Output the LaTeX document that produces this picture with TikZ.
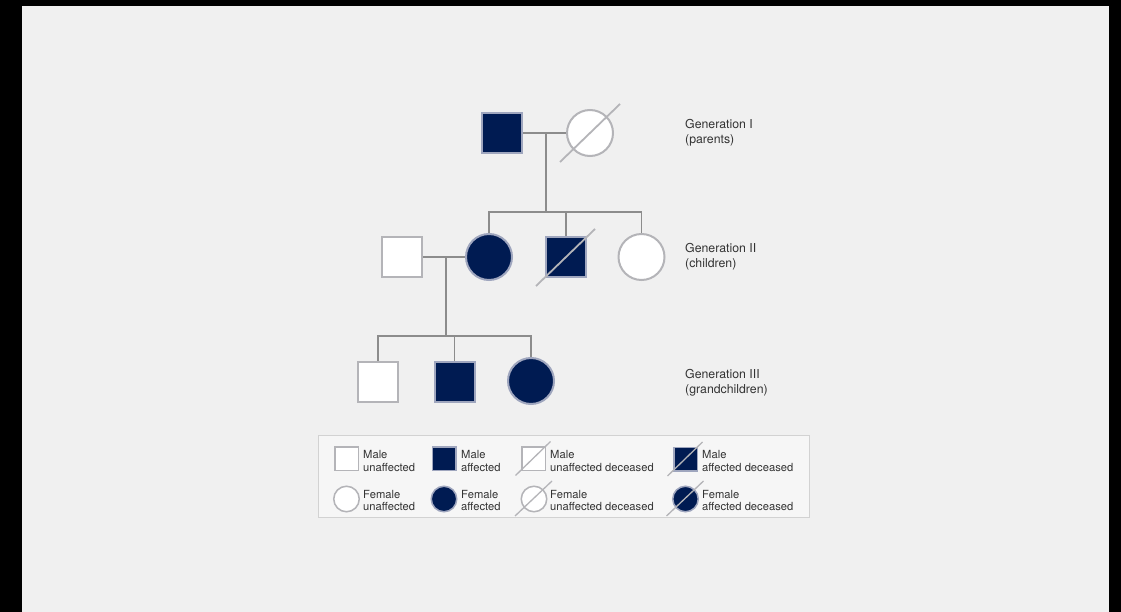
\documentclass[tikz,border=0pt]{standalone}
\usepackage{fontspec}
\setmainfont{TeX Gyre Heros}
\usetikzlibrary{calc}
\definecolor{bgc}{HTML}{F0F0F0}
\definecolor{navy}{HTML}{001B52}
\definecolor{edgegray}{HTML}{B4B4B8}
\definecolor{affedge}{HTML}{9FA6BE}
\definecolor{conngray}{HTML}{8C8C8C}
\definecolor{txt}{HTML}{333333}
\definecolor{legbox}{HTML}{D2D2D2}
\tikzset{
  male/.style={draw=edgegray, line width=2pt, fill=white, minimum size=40pt, inner sep=0pt, shape=rectangle},
  female/.style={draw=edgegray, line width=2pt, fill=white, minimum size=46pt, inner sep=0pt, shape=circle},
  maleaff/.style={male, fill=navy, draw=affedge},
  femaleaff/.style={female, fill=navy, draw=affedge},
  lmale/.style={draw=edgegray, line width=1.5pt, fill=white, minimum size=23.5pt, inner sep=0pt, shape=rectangle},
  lfemale/.style={draw=edgegray, line width=1.5pt, fill=white, minimum size=25.5pt, inner sep=0pt, shape=circle},
  lmaleaff/.style={lmale, fill=navy, draw=affedge},
  lfemaleaff/.style={lfemale, fill=navy, draw=affedge},
  conn/.style={draw=conngray, line width=1.5pt},
  dec/.style={draw=edgegray, line width=1.8pt},
  ldec/.style={draw=edgegray, line width=1.3pt},
  genlabel/.style={anchor=base west, align=left, inner sep=0pt, text=txt, font=\fontsize{12.3}{15}\selectfont},
  leglabel/.style={anchor=base west, align=left, inner sep=0pt, text=txt, font=\fontsize{11.2}{12.5}\selectfont},
}
\begin{document}
\begin{tikzpicture}[x=1pt,y=-1pt]
% background and frame
\fill[black] (0,0) rectangle (1121,612);
\fill[bgc] (22,6) rectangle (1109,612);
\useasboundingbox (0,0) rectangle (1121,612);

% Generation I
\node[maleaff] (i1) at (502,133) {};
\node[female] (i2) at (590,133) {};
\draw[dec] ($(i2)+(-30,29)$) -- ($(i2)+(30,-29)$);
\coordinate (mI) at (546,133);
\coordinate (sI) at (546,212);
\draw[conn] (i1.east) -- (i2.west);

% Generation II
\node[male] (ii1) at (402,257) {};
\node[femaleaff] (ii2) at (489,257) {};
\node[maleaff] (ii3) at (566,257) {};
\draw[dec] ($(ii3)+(-30,29)$) -- ($(ii3)+(29,-28)$);
\node[female] (ii4) at (641.5,257) {};
\draw[conn] (mI) -- (sI);
\draw[conn] (ii2.north) -- (ii2.north |- sI) -- (ii4.north |- sI) -- (ii4.north);
\draw[conn] (ii3.north) -- (ii3.north |- sI);
\coordinate (mII) at (446,257);
\coordinate (sII) at (446,336);
\draw[conn] (ii1.east) -- (ii2.west);

% Generation III
\node[male] (iii1) at (378,381.5) {};
\node[maleaff] (iii2) at (454.5,381.5) {};
\node[femaleaff] (iii3) at (531,381) {};
\draw[conn] (mII) -- (sII);
\draw[conn] (iii1.north) -- (iii1.north |- sII) -- (iii3.north |- sII) -- (iii3.north);
\draw[conn] (iii2.north) -- (iii2.north |- sII);

% Generation labels (base = last line)
\node[genlabel] (g1) at (685,144) {Generation I\\(parents)};
\node[genlabel] (g2) at (685,268) {Generation II\\(children)};
\node[genlabel] (g3) at (685,393) {Generation III\\(grandchildren)};

% Legend
\node[draw=legbox, line width=0.8pt, fill=bgc!60!white, minimum width=491pt, minimum height=82pt, inner sep=0pt] (leg) at (564,476) {};

\node[lmale] (l1) at (346.5,458.5) {};
\node[leglabel] (t1) at (363,471) {Male\\unaffected};
\node[lmaleaff] (l2) at (444,458.5) {};
\node[leglabel] (t2) at (461,471) {Male\\affected};
\node[lmale] (l3) at (533.5,458.5) {};
\draw[ldec] ($(l3)+(-18,17)$) -- ($(l3)+(17,-17)$);
\node[leglabel] (t3) at (550,471) {Male\\unaffected deceased};
\node[lmaleaff] (l4) at (685.5,459) {};
\draw[ldec] ($(l4)+(-18,17)$) -- ($(l4)+(17,-17)$);
\node[leglabel] (t4) at (702,471) {Male\\affected deceased};

\node[lfemale] (l5) at (346.5,499) {};
\node[leglabel] (t5) at (363,510.5) {Female\\unaffected};
\node[lfemaleaff] (l6) at (444,499) {};
\node[leglabel] (t6) at (461,510.5) {Female\\affected};
\node[lfemale] (l7) at (534,499) {};
\draw[ldec] ($(l7)+(-19,17)$) -- ($(l7)+(18,-18)$);
\node[leglabel] (t7) at (550,510.5) {Female\\unaffected deceased};
\node[lfemaleaff] (l8) at (685.5,499) {};
\draw[ldec] ($(l8)+(-19,17)$) -- ($(l8)+(18,-18)$);
\node[leglabel] (t8) at (702,510.5) {Female\\affected deceased};
\end{tikzpicture}
\end{document}
